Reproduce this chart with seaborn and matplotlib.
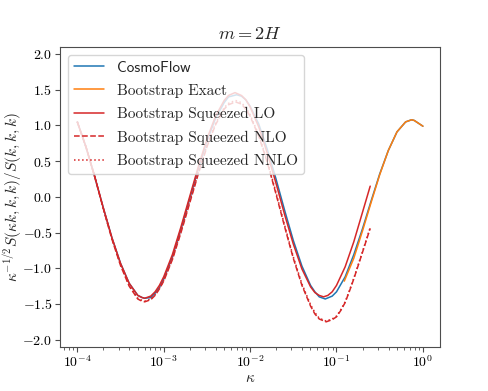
import numpy as np
import matplotlib
matplotlib.use("Agg")
import matplotlib.pyplot as plt
import seaborn as sns

# log10(kappa) sample positions and curve values
COSMO_LOGK = [-4.0, -3.9, -3.8, -3.7, -3.6, -3.5, -3.4, -3.3,
              -3.25, -3.22, -3.15, -3.1, -3.05, -3.0,
              -2.9, -2.8, -2.7, -2.6, -2.5, -2.4, -2.3,
              -2.25, -2.155, -2.1, -2.05, -2.0,
              -1.9, -1.8, -1.7, -1.6, -1.5, -1.4, -1.3,
              -1.25, -1.2, -1.13, -1.05, -1.0,
              -0.9, -0.8, -0.7, -0.6, -0.5, -0.4, -0.3, -0.2,
              -0.13, -0.1, 0.0]
COSMO_VAL = [1.05, 0.70, 0.29, -0.15, -0.57, -0.93, -1.21, -1.38,
             -1.41, -1.42, -1.41, -1.35, -1.27, -1.15,
             -0.84, -0.45, -0.03, 0.39, 0.78, 1.10, 1.32,
             1.40, 1.43, 1.41, 1.36, 1.27,
             1.02, 0.66, 0.25, -0.19, -0.61, -0.97, -1.24,
             -1.33, -1.40, -1.43, -1.39, -1.33,
             -1.12, -0.81, -0.45, -0.06, 0.32, 0.65, 0.91, 1.05,
             1.08, 1.07, 0.99]

EXACT_LOGK = [-0.91, -0.8, -0.7, -0.6, -0.5, -0.4, -0.3, -0.2, -0.13, -0.1, 0.0]
EXACT_VAL = [-1.18, -0.86, -0.48, -0.08, 0.31, 0.65, 0.91, 1.05, 1.08, 1.07, 0.99]

LO_LOGK = [-4.0, -3.9, -3.8, -3.7, -3.6, -3.5, -3.4, -3.3,
           -3.25, -3.22, -3.15, -3.1, -3.05, -3.0,
           -2.9, -2.8, -2.7, -2.6, -2.5, -2.4, -2.3,
           -2.25, -2.175, -2.1, -2.05, -2.0,
           -1.9, -1.8, -1.7, -1.6, -1.5, -1.4, -1.3,
           -1.25, -1.2, -1.15, -1.1, -1.05, -1.0,
           -0.9, -0.8, -0.7, -0.61]
LO_VAL = [1.05, 0.70, 0.29, -0.15, -0.57, -0.93, -1.21, -1.38,
          -1.41, -1.42, -1.39, -1.33, -1.24, -1.12,
          -0.81, -0.42, 0.00, 0.42, 0.81, 1.13, 1.35,
          1.42, 1.46, 1.42, 1.36, 1.26,
          0.98, 0.61, 0.19, -0.25, -0.66, -1.01, -1.26,
          -1.34, -1.38, -1.40, -1.38, -1.33, -1.24,
          -0.98, -0.63, -0.22, 0.15]

NLO_LOGK = [-4.0, -3.9, -3.8, -3.7, -3.6, -3.5, -3.4, -3.3,
            -3.27, -3.22, -3.15, -3.1, -3.05, -3.0,
            -2.9, -2.8, -2.7, -2.6, -2.5, -2.4, -2.3,
            -2.25, -2.17, -2.1, -2.05, -2.0,
            -1.9, -1.8, -1.7, -1.6, -1.5, -1.4, -1.3,
            -1.25, -1.2, -1.12, -1.05, -1.0, -0.95, -0.9, -0.85, -0.8, -0.7, -0.61]
NLO_VAL = [1.05, 0.70, 0.29, -0.16, -0.59, -0.96, -1.25, -1.43,
           -1.45, -1.47, -1.44, -1.38, -1.29, -1.18,
           -0.88, -0.50, -0.09, 0.32, 0.70, 1.01, 1.23,
           1.29, 1.33, 1.30, 1.23, 1.13,
           0.85, 0.48, 0.04, -0.42, -0.86, -1.24, -1.53,
           -1.64, -1.71, -1.75, -1.72, -1.68, -1.59, -1.48, -1.32, -1.15, -0.78, -0.44]

NNLO_LOGK = NLO_LOGK
NNLO_VAL = [1.05, 0.70, 0.29, -0.16, -0.58, -0.95, -1.24, -1.42,
            -1.44, -1.46, -1.43, -1.37, -1.28, -1.17,
            -0.87, -0.48, -0.07, 0.34, 0.72, 1.03, 1.25,
            1.31, 1.35, 1.32, 1.25, 1.15,
            0.87, 0.50, 0.06, -0.40, -0.84, -1.22, -1.51,
            -1.62, -1.70, -1.74, -1.71, -1.67, -1.58, -1.47, -1.31, -1.14, -0.77, -0.43]

sns.set_style("ticks")
plt.rcParams["font.family"] = ["cmr10"]
plt.rcParams["mathtext.fontset"] = "cm"
plt.rcParams["axes.formatter.use_mathtext"] = True
plt.rcParams["font.size"] = 11
plt.rcParams["xtick.labelsize"] = 10
plt.rcParams["ytick.labelsize"] = 10
plt.rcParams["axes.edgecolor"] = "0.3"
plt.rcParams["xtick.color"] = "0.3"
plt.rcParams["ytick.color"] = "0.3"
plt.rcParams["xtick.labelcolor"] = "black"
plt.rcParams["ytick.labelcolor"] = "black"
plt.rcParams["axes.linewidth"] = 0.8
plt.rcParams["lines.linewidth"] = 1.1

fig, ax = plt.subplots(figsize=(4.88, 3.91), dpi=100)
fig.subplots_adjust(left=0.123, right=0.902, bottom=0.113, top=0.88)

k = lambda e: 10.0 ** np.array(e)
sns.lineplot(x=k(COSMO_LOGK), y=COSMO_VAL, color="tab:blue", label="CosmoFlow", ax=ax)
sns.lineplot(x=k(EXACT_LOGK), y=EXACT_VAL, color="tab:orange", label="Bootstrap Exact", ax=ax)
sns.lineplot(x=k(LO_LOGK), y=LO_VAL, color="tab:red", label="Bootstrap Squeezed LO", ax=ax)
sns.lineplot(x=k(NLO_LOGK), y=NLO_VAL, color="tab:red", linestyle="--",
             label="Bootstrap Squeezed NLO", ax=ax)
sns.lineplot(x=k(NNLO_LOGK), y=NNLO_VAL, color="tab:red", linestyle=":",
             label="Bootstrap Squeezed NNLO", ax=ax)

ax.set_xscale("log")
ax.set_xlim(10 ** -4.2, 10 ** 0.2)
ax.set_ylim(-2.1, 2.1)
ax.set_yticks([-2.0, -1.5, -1.0, -0.5, 0.0, 0.5, 1.0, 1.5, 2.0])
ax.tick_params(axis="both", which="major", length=3.5, pad=2)
ax.set_xlabel(r"$\kappa$", labelpad=1)
ax.set_ylabel(r"$\kappa^{-1/2}S(\kappa k,k,k)/S(k,k,k)$", labelpad=-1)
ax.set_title(r"$m = 2H$")

leg = ax.legend(loc="upper left", labelspacing=0.6)
leg.get_texts()[0].set_fontfamily("cmss10")

fig.savefig("out.png", dpi=100)
